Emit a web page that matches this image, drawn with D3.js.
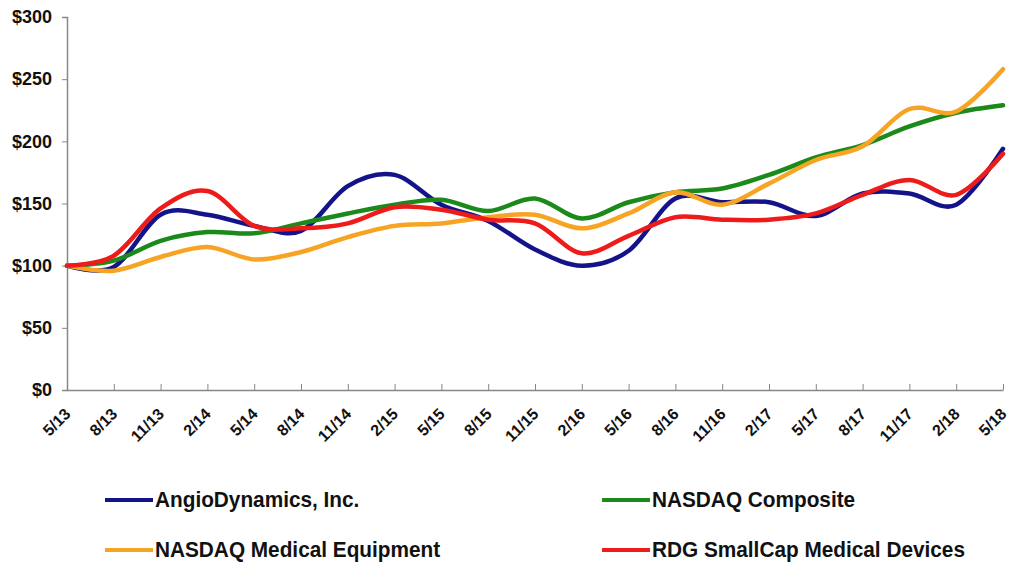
<!DOCTYPE html>
<html>
<head>
<meta charset="utf-8">
<script src="https://cdn.jsdelivr.net/npm/d3@7"></script>
<style>
  body { margin: 0; background: #fff; }
  svg { display: block; }
  .axis text { font-family: "Liberation Sans", Arial, sans-serif; font-weight: bold; fill: #111; }
  .legend text { font-family: "Liberation Sans", Arial, sans-serif; font-weight: bold; fill: #111; }
</style>
</head>
<body>
<div id="chart"></div>
<script>
// DATA
const quarters = ["5/13","8/13","11/13","2/14","5/14","8/14","11/14","2/15","5/15","8/15","11/15",
                  "2/16","5/16","8/16","11/16","2/17","5/17","8/17","11/17","2/18","5/18"]

const angio   = [100, 99, 141, 141, 132, 128, 164, 173, 149, 136, 113, 100, 112, 154, 151, 151, 140, 158, 158, 149, 194]
const nasdaq  = [100, 104, 120, 127, 126, 134, 142, 149, 153, 144, 154, 138, 151, 159, 162, 173, 187, 197, 212, 223, 229]
const medEq   = [100, 96, 107, 115, 105, 111, 123, 132, 134, 139, 141, 130, 142, 159, 149, 166, 185, 196, 226, 224, 258]
const rdg     = [100, 108, 146, 160, 132, 130, 134, 147, 145, 137, 134, 110, 124, 139, 137, 137, 142, 157, 169, 157, 190]

const yTicks = [0, 50, 100, 150, 200, 250, 300]

const seriesNames  = ["AngioDynamics, Inc.", "NASDAQ Composite", "NASDAQ Medical Equipment", "RDG SmallCap Medical Devices"]
const seriesColors = ["#14148a", "#1b8a1b", "#f7a424", "#ee1b1b"]

const width = 1011, height = 566
const plotLeft = 67, plotRight = 1003, plotTop = 17, plotBottom = 390

const svg = d3.select("#chart").append("svg")
  .attr("width", width)
  .attr("height", height)

const xScale = d3.scalePoint()
  .domain(quarters)
  .range([plotLeft, plotRight])

const yScale = d3.scaleLinear()
  .domain([0, 300])
  .range([plotBottom, plotTop])

// AXES
svg.append("g")
  .attr("class", "axis")
  .attr("transform", `translate(${plotLeft},0)`)
  .call(d3.axisLeft(yScale).tickValues(yTicks).tickSize(5).tickPadding(10).tickFormat(d => "$" + d))
  .call(g => g.select(".domain").attr("stroke", "#888").attr("stroke-width", 1.5))
  .call(g => g.selectAll(".tick line").attr("stroke", "#888"))
  .selectAll("text").attr("font-size", 18)

const xAxis = svg.append("g")
  .attr("class", "axis")
  .attr("transform", `translate(0,${plotBottom})`)
  .call(d3.axisBottom(xScale).tickSize(-6).tickSizeOuter(0))

xAxis.select(".domain").attr("stroke", "#888").attr("stroke-width", 1.5)
xAxis.selectAll(".tick line").attr("stroke", "#888")
xAxis.selectAll("text")
  .attr("font-size", 16)
  .attr("text-anchor", "end")
  .attr("dy", 0)
  .attr("y", 0)
  .attr("transform", "translate(4,25) rotate(-45)")

// LINES
const allSeries = [angio, nasdaq, medEq, rdg]

const line = d3.line()
  .x((d, i) => xScale(quarters[i]))
  .y(d => yScale(d))
  .curve(d3.curveCardinal.tension(0))

svg.selectAll(".series")
  .data(allSeries)
  .join("path")
    .attr("class", "series")
    .attr("d", d => line(d))
    .attr("fill", "none")
    .attr("stroke", (d, i) => seriesColors[i])
    .attr("stroke-width", 4.5)
    .attr("stroke-linecap", "round")

// LEGEND
const legendX = [105, 602], legendY = [500, 550]

const legend = svg.append("g").attr("class", "legend")
  .selectAll("g")
  .data(seriesNames)
  .join("g")
    .attr("transform", (d, i) => `translate(${legendX[i % 2]},${legendY[Math.floor(i / 2)]})`)

legend.append("line")
  .attr("x1", 0).attr("x2", 48)
  .attr("stroke", (d, i) => seriesColors[i])
  .attr("stroke-width", 4)

legend.append("text")
  .text(d => d)
  .attr("transform", "translate(50,7) scale(0.945,1)")
  .attr("font-size", 22)
</script>
</body>
</html>
